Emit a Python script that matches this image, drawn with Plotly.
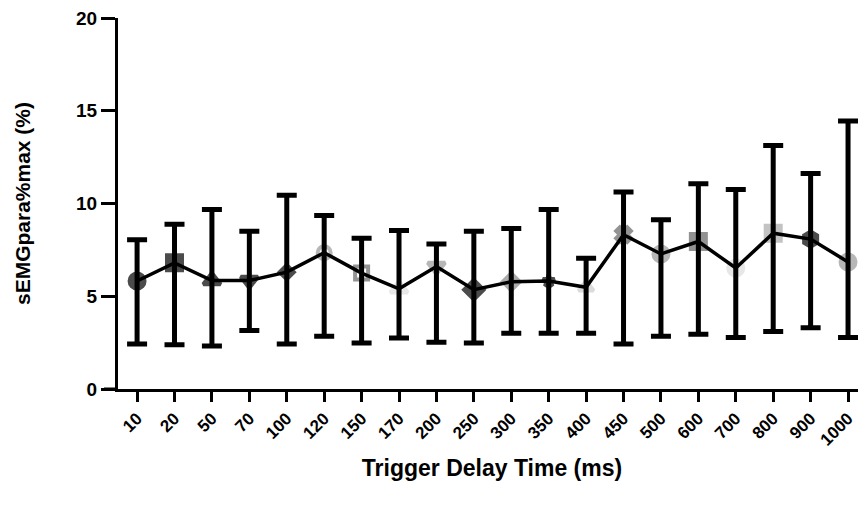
import plotly.graph_objects as go

categories = ["10", "20", "50", "70", "100", "120", "150", "170", "200", "250",
              "300", "350", "400", "450", "500", "600", "700", "800", "900", "1000"]
means = [5.82, 6.8, 5.85, 5.85, 6.3, 7.35, 6.25, 5.4, 6.6, 5.35,
         5.78, 5.82, 5.48, 8.32, 7.28, 7.95, 6.52, 8.4, 8.08, 6.85]
upper = [8.05, 8.88, 9.68, 8.5, 10.45, 9.35, 8.12, 8.55, 7.82, 8.5,
         8.65, 9.67, 7.05, 10.62, 9.12, 11.07, 10.75, 13.12, 11.62, 14.45]
lower = [2.42, 2.38, 2.32, 3.15, 2.42, 2.85, 2.48, 2.75, 2.52, 2.48,
         3.0, 3.0, 3.0, 2.42, 2.85, 2.95, 2.78, 3.1, 3.3, 2.78]
symbols = ["circle", "square", "triangle-up", "triangle-down", "diamond",
           "circle-open", "square-open", "triangle-up", "triangle-down", "diamond",
           "diamond", "star", "triangle-up", "x", "circle",
           "square", "circle", "square", "hexagon", "circle"]
colors = ["#000000", "#000000", "#000000", "#000000", "#000000",
          "#999999", "#666666", "#dddddd", "#999999", "#000000",
          "#888888", "#000000", "#cccccc", "#666666", "#999999",
          "#666666", "#dddddd", "#aaaaaa", "#000000", "#999999"]
sizes = [15, 15, 15, 15, 11, 13, 13, 15, 15, 15,
         13, 9, 13, 13, 15, 15, 15, 15, 15, 15]

x_idx = list(range(len(categories)))
err_plus = [u - m for u, m in zip(upper, means)]
err_minus = [m - l for m, l in zip(means, lower)]

fig = go.Figure()
fig.add_trace(go.Scatter(
    x=x_idx, y=means, mode="markers",
    marker=dict(symbol=symbols, color=colors, size=sizes,
                line=dict(color=colors, width=4)),
    showlegend=False, hoverinfo="skip"))
fig.add_trace(go.Scatter(
    x=x_idx, y=means, mode="lines",
    line=dict(color="black", width=3.5),
    error_y=dict(type="data", symmetric=False, array=err_plus, arrayminus=err_minus,
                 color="black", thickness=5, width=10),
    showlegend=False))

font_b = dict(family="Liberation Sans, Arial, sans-serif", color="black", weight="bold")

fig.update_layout(
    width=858, height=498,
    margin=dict(l=110, r=0, t=10, b=117, autoexpand=False),
    paper_bgcolor="white", plot_bgcolor="white",
    xaxis=dict(range=[-0.51, 19.48], tickmode="array", tickvals=x_idx, ticktext=categories,
               tickangle=-45, showline=True, linewidth=3, linecolor="black",
               ticks="outside", ticklen=10, tickwidth=3, tickcolor="black",
               showgrid=False, zeroline=False, automargin=False,
               ticklabeloverflow="allow",
               tickfont=dict(size=17, **font_b),
               title=dict(text="Trigger Delay Time (ms)", font=dict(size=23, **font_b), standoff=12)),
    yaxis=dict(range=[0, 20], tickvals=[0, 5, 10, 15, 20], showline=True, linewidth=3,
               linecolor="black", ticks="outside", ticklen=14, tickwidth=3, tickcolor="black",
               showgrid=False, zeroline=False, automargin=False,
               ticklabeloverflow="allow",
               tickfont=dict(size=19, **font_b),
               title=dict(text="sEMGpara%max (%)", font=dict(size=21, **font_b), standoff=40)),
    shapes=[dict(type="line", xref="paper", yref="paper", x0=-14/748, x1=0, y0=0, y1=0,
                 line=dict(color="black", width=3))],
)

fig.write_html("out.html")
